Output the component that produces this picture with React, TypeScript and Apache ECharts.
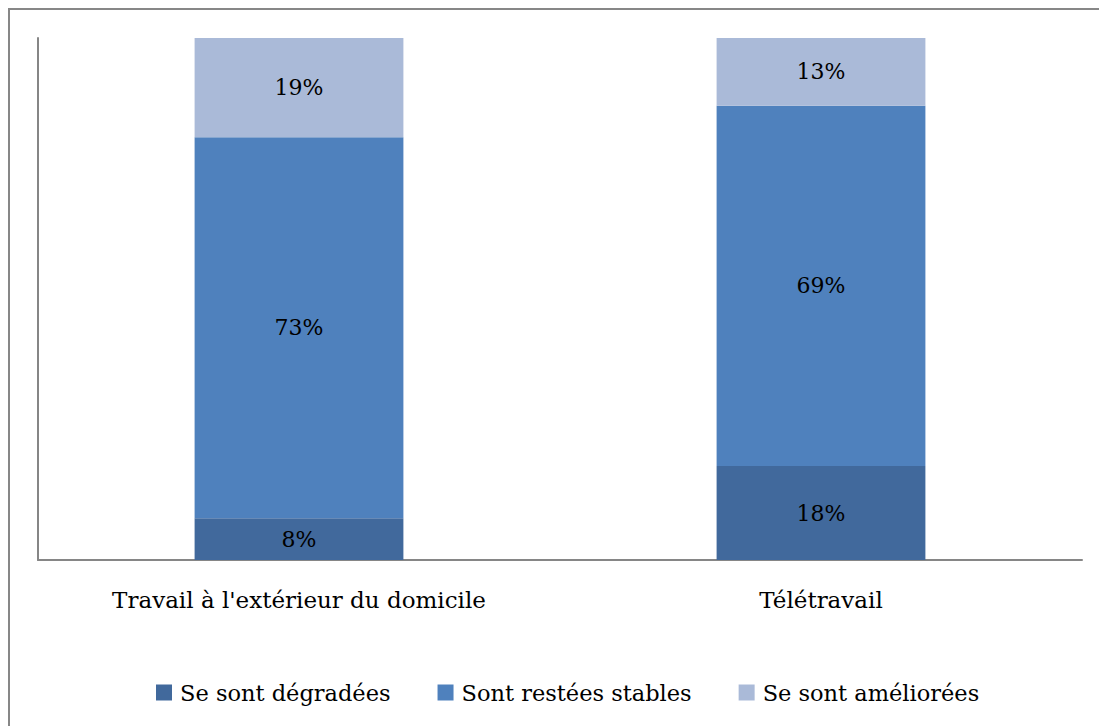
import React, { useEffect, useRef } from "react";
import * as echarts from "echarts";

const categories = ["Travail à l'extérieur du domicile", "Télétravail"];
const degradees = [8, 18];
const stables = [73, 69];
const ameliorees = [19, 13];
const seriesNames = ["Se sont dégradées", "Sont restées stables", "Se sont améliorées"];

const FONT = "DejaVu Serif";

export default function App() {
  const ref = useRef<HTMLDivElement>(null);
  useEffect(() => {
    const chart = echarts.init(ref.current!, null, { renderer: "svg" });
    const label = {
      show: true,
      position: "inside",
      color: "#000",
      fontFamily: FONT,
      fontSize: 22,
      formatter: (p: any) => p.value + "%",
    };
    chart.setOption({
      animation: false,
      color: ["#41699C", "#4F81BD", "#AABAD8"],
      grid: { left: 38, right: 17, top: 38, bottom: 166, containLabel: false },
      graphic: [
        {
          type: "rect",
          shape: { x: 9, y: 9, width: 2000, height: 2000 },
          style: { fill: "none", stroke: "#878787", lineWidth: 2 },
          silent: true,
        },
      ],
      legend: {
        left: 156,
        top: 681,
        padding: 0,
        itemWidth: 16,
        itemHeight: 16,
        itemGap: 47,
        icon: "rect",
        textStyle: { fontFamily: FONT, fontSize: 22.5, color: "#000", padding: [0, 0, 0, 3] },
        data: seriesNames,
      },
      xAxis: {
        type: "category",
        data: categories,
        axisLine: { show: true, lineStyle: { color: "#868686", width: 2 } },
        axisTick: { show: false },
        axisLabel: { color: "#000", fontFamily: FONT, fontSize: 23, margin: 28 },
      },
      yAxis: {
        type: "value",
        min: 0,
        max: 100,
        axisLine: { show: true, lineStyle: { color: "#868686", width: 2 } },
        axisTick: { show: false },
        axisLabel: { show: false },
        splitLine: { show: false },
      },
      series: [
        { name: seriesNames[0], type: "bar", stack: "s", barWidth: "40%", data: degradees, label },
        { name: seriesNames[1], type: "bar", stack: "s", barWidth: "40%", data: stables, label },
        { name: seriesNames[2], type: "bar", stack: "s", barWidth: "40%", data: ameliorees, label },
      ],
    });
    return () => chart.dispose();
  }, []);
  return (
    <div
      ref={ref}
      style={{ position: "absolute", left: 0, top: 0, width: 1099, height: 726, background: "#fff" }}
    />
  );
}
